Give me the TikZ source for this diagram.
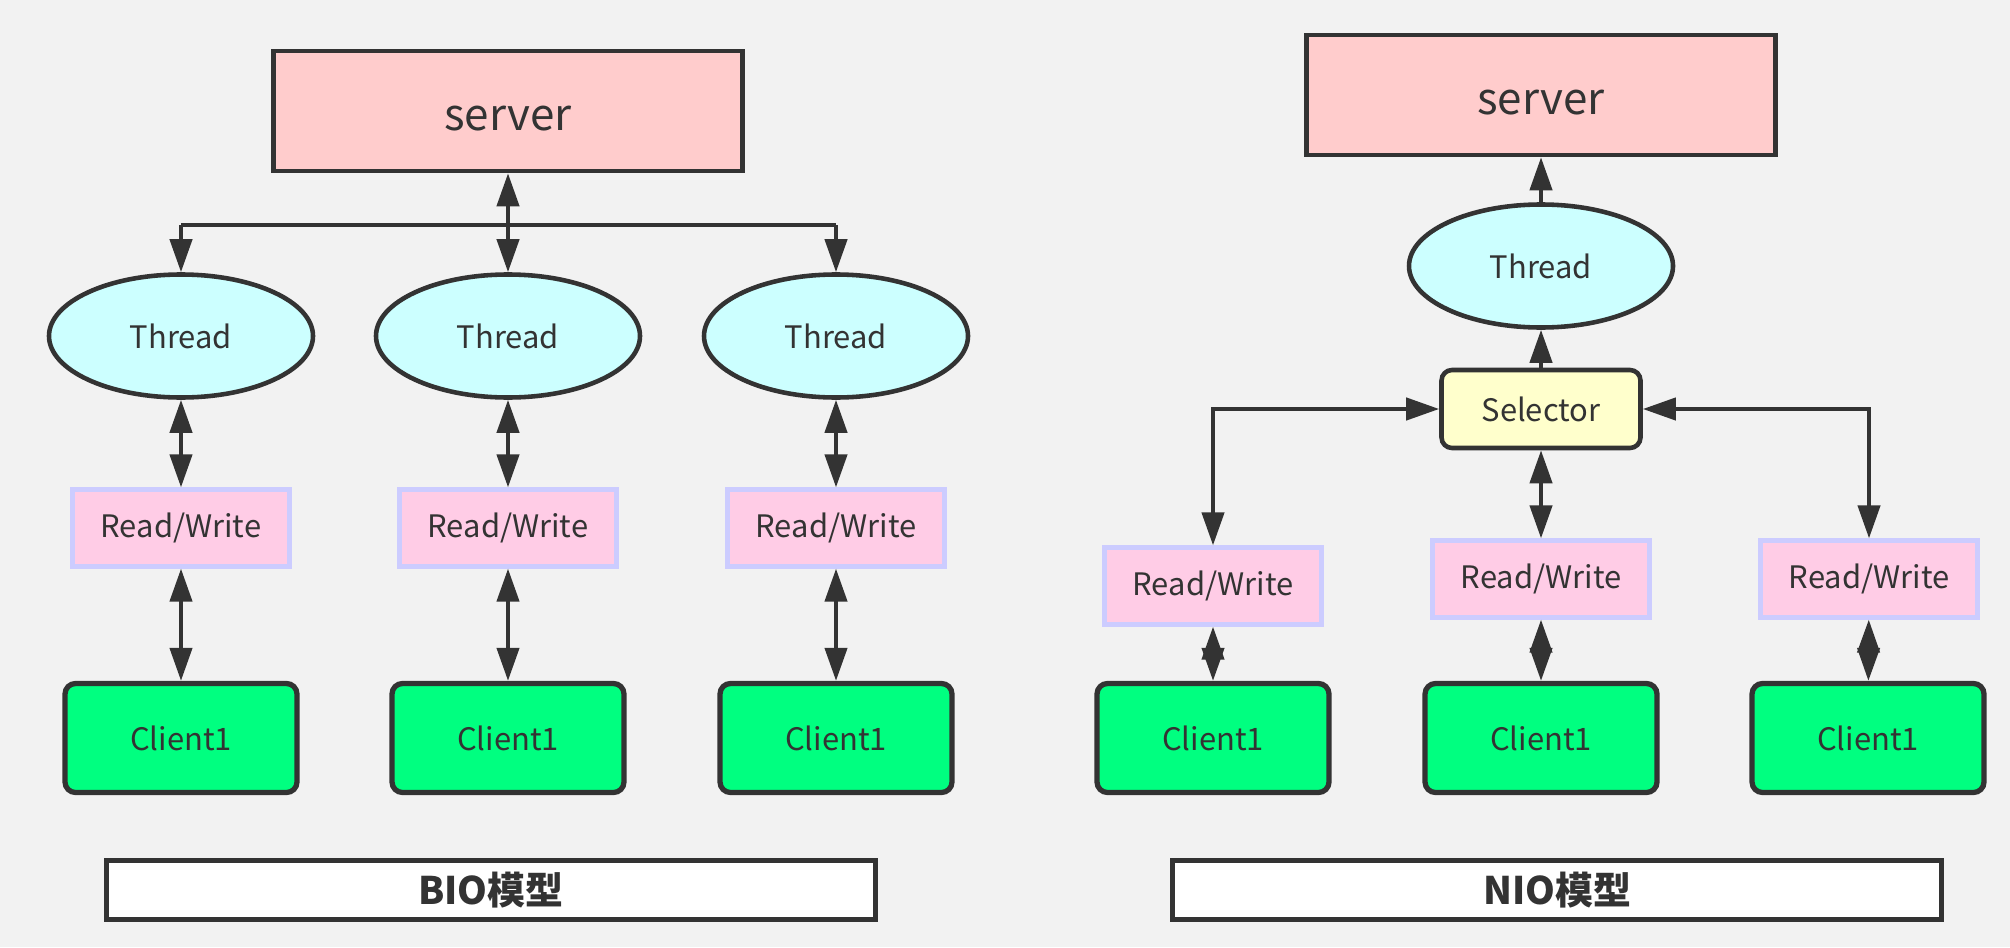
\documentclass[tikz,border=0pt]{standalone}
\usepackage{xcolor}
\usepackage{fontspec}
\setmainfont{Noto Sans CJK SC}
\usepackage{tikz}
\usetikzlibrary{arrows.meta, positioning, shapes.geometric, calc}
\definecolor{Ink}{HTML}{333333}
\definecolor{Canvas}{HTML}{F2F2F2}
\definecolor{SoftRed}{HTML}{FFCCCC}
\definecolor{SoftCyan}{HTML}{CCFFFF}
\definecolor{SoftPink}{HTML}{FFCCE6}
\definecolor{Lilac}{HTML}{CCCCFF}
\definecolor{Mint}{HTML}{00FF80}
\definecolor{SoftYellow}{HTML}{FFFFCC}

\begin{document}
\begin{tikzpicture}[
  font=\fontsize{8.8}{10}\selectfont, text=Ink,
  serverbox/.style={draw=Ink, line width=1.3pt, fill=SoftRed, minimum width=4.69cm, minimum height=1.2cm, text height=0.4cm, text depth=0pt, font=\fontsize{12.5}{14}\selectfont},
  threadnode/.style={ellipse, draw=Ink, line width=1.3pt, fill=SoftCyan, minimum width=2.64cm, minimum height=1.23cm},
  rwbox/.style={draw=Lilac, line width=1.2pt, fill=SoftPink, minimum width=2.17cm, minimum height=0.77cm},
  clientbox/.style={draw=Ink, line width=1.5pt, rounded corners=3pt, fill=Mint, minimum width=2.32cm, minimum height=1.09cm},
  selectorbox/.style={draw=Ink, line width=1.3pt, rounded corners=3pt, fill=SoftYellow, minimum width=1.99cm, minimum height=0.78cm},
  titlebox/.style={draw=Ink, line width=1.3pt, fill=white, minimum width=7.69cm, minimum height=0.53cm, font=\fontsize{10.8}{12}\selectfont\bfseries},
  wire/.style={draw=Ink, line width=1.2pt},
  oneway/.style={wire, -{Triangle[length=3.3mm, width=2.2mm]}},
  twoway/.style={wire, {Triangle[length=3.3mm, width=2.2mm]}-{Triangle[length=3.3mm, width=2.2mm]}}
]
\fill[Canvas] (0,0) rectangle (20.10,-9.47);
\useasboundingbox (0,0) rectangle (20.10,-9.47);

% BIO
\node[serverbox] (bserver) at (5.08,-1.11) {server};
\node[threadnode] (bthread1) at (1.81,-3.36) {Thread};
\node[threadnode] (bthread2) at (5.08,-3.36) {Thread};
\node[threadnode] (bthread3) at (8.36,-3.36) {Thread};
\node[rwbox] (brw1) at (1.81,-5.28) {Read/Write};
\node[rwbox] (brw2) at (5.08,-5.28) {Read/Write};
\node[rwbox] (brw3) at (8.36,-5.28) {Read/Write};
\node[clientbox] (bclient1) at (1.81,-7.38) {Client1};
\node[clientbox] (bclient2) at (5.08,-7.38) {Client1};
\node[clientbox] (bclient3) at (8.36,-7.38) {Client1};
\node[titlebox] (btitle) at (4.91,-8.90) {BIO模型};
\coordinate (bus) at (5.08,-2.25);

\draw[twoway] (bserver) -- (bthread2);
\draw[wire] (bthread1.north |- bus) -- (bthread3.north |- bus);
\draw[oneway] (bthread1.north |- bus) -- (bthread1);
\draw[oneway] (bthread3.north |- bus) -- (bthread3);
\foreach \i in {1,2,3} {
  \draw[twoway] (bthread\i) -- (brw\i);
  \draw[twoway] (brw\i) -- (bclient\i);
}

% NIO
\node[serverbox] (nserver) at (15.41,-0.95) {server};
\node[threadnode] (nthread) at (15.41,-2.66) {Thread};
\node[selectorbox] (selector) at (15.41,-4.09) {Selector};
\node[rwbox] (nrw1) at (12.13,-5.86) {Read/Write};
\node[rwbox] (nrw2) at (15.41,-5.79) {Read/Write};
\node[rwbox] (nrw3) at (18.69,-5.79) {Read/Write};
\node[clientbox] (nclient1) at (12.13,-7.38) {Client1};
\node[clientbox] (nclient2) at (15.41,-7.38) {Client1};
\node[clientbox] (nclient3) at (18.68,-7.38) {Client1};
\node[titlebox] (ntitle) at (15.57,-8.90) {NIO模型};

\draw[oneway] (nthread) -- (nserver);
\draw[oneway] (selector) -- (nthread);
\draw[twoway] (selector) -- (nrw2);
\draw[twoway] (nrw1.north) |- (selector.west);
\draw[twoway] (nrw3.north) |- (selector.east);
\foreach \i in {1,2,3} {
  \draw[twoway] (nrw\i) -- (nclient\i);
}
\end{tikzpicture}
\end{document}
